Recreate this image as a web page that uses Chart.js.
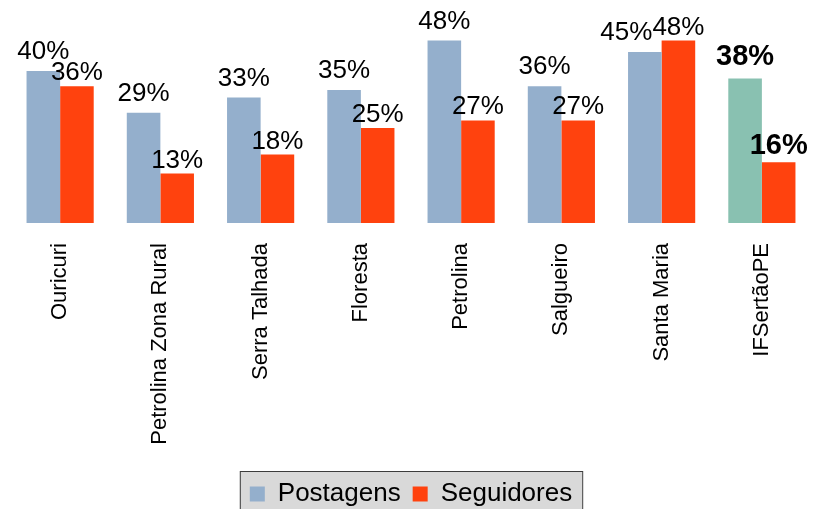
<!DOCTYPE html>
<html>
<head>
<meta charset="utf-8">
<script src="https://cdn.jsdelivr.net/npm/chart.js@4"></script>
<style>
  html, body { margin: 0; padding: 0; background: #fff; overflow: hidden; }
  #wrap { width: 821px; height: 517px; }
</style>
</head>
<body>
<div id="wrap"><canvas id="grafico"></canvas></div>
<script>
const categorias = ['Ouricuri', 'Petrolina Zona Rural', 'Serra Talhada', 'Floresta', 'Petrolina', 'Salgueiro', 'Santa Maria', 'IFSertãoPE'];
const postagens = [40, 29, 33, 35, 48, 36, 45, 38];
const seguidores = [36, 13, 18, 25, 27, 27, 48, 16];
const destaque = 'IFSertãoPE';

const azul = '#94AFCC';
const verde = '#89C1B1';
const laranja = '#FF420E';
const fonte = '"Liberation Sans", Arial, sans-serif';

// rotulos de valor em cima das barras
const rotulos = {
  id: 'rotulos',
  afterDatasetsDraw(chart) {
    const ctx = chart.ctx;
    const itens = [];
    chart.data.datasets.forEach((ds, di) => {
      chart.getDatasetMeta(di).data.forEach((bar, i) => {
        const negrito = categorias[i] === destaque;
        const tam = negrito ? 29 : 26;
        ctx.font = (negrito ? 'bold ' : '') + tam + 'px ' + fonte;
        const txt = ds.data[i] + '%';
        const w = ctx.measureText(txt).width;
        const y = bar.y - (di === 0 ? 12 : 6) - (negrito ? 2 : 0);
        itens.push({ di, i, txt, w, x: bar.x, y, tam, font: ctx.font });
      });
    });
    // empurra o rotulo da esquerda se bater no da direita
    itens.filter(a => a.di === 0).forEach(a => {
      const b = itens.find(o => o.di === 1 && o.i === a.i);
      const dir = a.x + a.w / 2, esq = b.x - b.w / 2;
      if (dir > esq && Math.abs(a.y - b.y) < a.tam * 0.75) a.x -= dir - esq;
    });
    ctx.save();
    ctx.fillStyle = '#000';
    ctx.textAlign = 'center';
    ctx.textBaseline = 'alphabetic';
    itens.forEach(it => {
      ctx.font = it.font;
      ctx.fillText(it.txt, it.x, it.y);
    });
    ctx.restore();
  }
};

// caixa cinza atras da legenda
const caixaLegenda = {
  id: 'caixaLegenda',
  beforeDraw(chart) {
    const hb = chart.legend && chart.legend.legendHitBoxes;
    if (!hb || !hb.length) return;
    const ctx = chart.ctx;
    const l = hb[0].left - 10;
    const r = hb[hb.length - 1].left + hb[hb.length - 1].width + 10;
    const t = hb[0].top - 10;
    ctx.save();
    ctx.fillStyle = '#D9D9D9';
    ctx.strokeStyle = '#3C3C3C';
    ctx.lineWidth = 1;
    ctx.fillRect(l, t, r - l, chart.height - t + 5);
    ctx.strokeRect(l + 0.5, t + 0.5, r - l, chart.height - t + 5);
    ctx.restore();
  }
};

new Chart(document.getElementById('grafico'), {
  type: 'bar',
  data: {
    labels: categorias,
    datasets: [{
      label: 'Postagens',
      data: postagens,
      backgroundColor: c => categorias[c.dataIndex] === destaque ? verde : azul
    }, {
      label: 'Seguidores',
      data: seguidores,
      backgroundColor: laranja
    }]
  },
  options: {
    responsive: true,
    maintainAspectRatio: false,
    animation: false,
    layout: { padding: { top: 33, left: 10, right: 9, bottom: 0 } },
    datasets: { bar: { categoryPercentage: 0.67, barPercentage: 1.0 } },
    scales: {
      x: {
        grid: { display: false, drawTicks: false },
        border: { display: false },
        ticks: {
          color: '#000',
          font: { family: fonte, size: 22 },
          minRotation: 90,
          maxRotation: 90,
          padding: 20,
          autoSkip: false
        },
        afterFit(scale) { scale.height = 246; }
      },
      y: { display: false, min: 0, max: 50 }
    },
    plugins: {
      legend: {
        position: 'bottom',
        labels: {
          color: '#000',
          font: { family: fonte, size: 26 },
          boxWidth: 15,
          boxHeight: 15,
          padding: 12
        }
      },
      tooltip: { enabled: false }
    }
  },
  plugins: [rotulos, caixaLegenda]
});
</script>
</body>
</html>
